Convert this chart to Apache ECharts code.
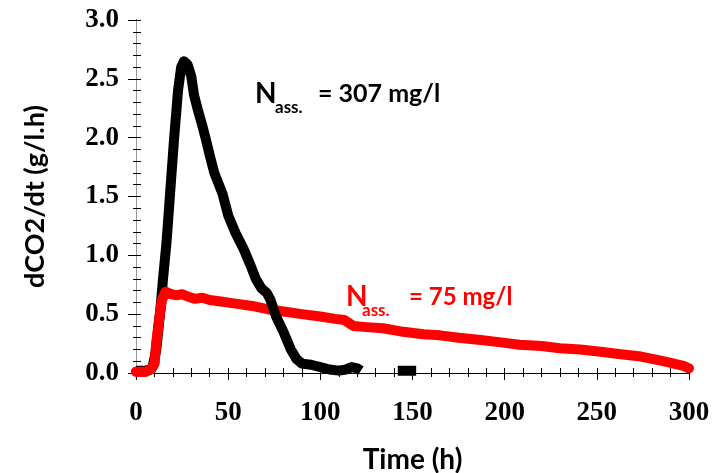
<!DOCTYPE html>
<html>
<head>
    <meta charset="utf-8">
    <style>
        html, body { margin: 0; padding: 0; background: #fff; }
        #chart { width: 723px; height: 473px; }
    </style>
    <script src="https://cdn.jsdelivr.net/npm/echarts@6.0.0/dist/echarts.min.js"></script>
</head>
<body>
    <div id="chart"></div>
    <script type="text/javascript">
        // N ass. = 307 mg/l  (time h, dCO2/dt)
        var highTime = [0, 5, 8, 9, 11, 13, 14.6, 16.5, 18, 20.6, 22.8, 24.5, 26, 28, 30, 31.5, 33.5, 36, 38, 40, 42.5, 45, 47, 50, 54, 58.5, 62, 65, 68, 71, 73, 76, 80, 84, 87, 90, 95, 100, 105, 110, 114, 117, 120, 122, null, 142, 152];
        var highRate = [0.02, 0.02, 0.03, 0.05, 0.2, 0.5, 0.79, 1.1, 1.42, 1.98, 2.4, 2.6, 2.65, 2.62, 2.52, 2.36, 2.24, 2.1, 1.98, 1.85, 1.7, 1.6, 1.52, 1.34, 1.19, 1.05, 0.92, 0.8, 0.72, 0.68, 0.62, 0.48, 0.35, 0.2, 0.12, 0.08, 0.07, 0.05, 0.03, 0.02, 0.03, 0.05, 0.04, 0.02, null, 0.02, 0.02];
        // N ass. = 75 mg/l
        var lowTime = [0, 5, 8, 10, 11, 12.5, 14, 16, 19, 22, 25, 28, 32, 36, 40, 45, 54, 63, 72, 81, 90, 100, 108, 113, 118, 125, 134, 145, 156, 165, 175, 187, 198, 208, 220, 230, 241, 252, 263, 274, 286, 297, 300];
        var lowRate = [0.01, 0.01, 0.03, 0.08, 0.25, 0.45, 0.62, 0.69, 0.67, 0.66, 0.67, 0.65, 0.63, 0.64, 0.62, 0.61, 0.59, 0.57, 0.54, 0.52, 0.5, 0.48, 0.46, 0.45, 0.4, 0.39, 0.38, 0.35, 0.33, 0.32, 0.3, 0.28, 0.26, 0.24, 0.23, 0.21, 0.2, 0.18, 0.16, 0.14, 0.1, 0.06, 0.04];

        function pairs(xs, ys) {
            return xs.map(function (x, i) { return x === null ? [null, null] : [x, ys[i]]; });
        }

        var tickFont = { fontFamily: 'Liberation Serif', fontWeight: 'bold', fontSize: 27, color: '#000' };
        var titleFont = { fontFamily: 'Lato', fontWeight: 'bold', fontSize: 27, color: '#000' };
        var redLine = { color: '#ff0000', width: 10, join: 'round', cap: 'round' };

        var myChart = echarts.init(document.getElementById('chart'));
        myChart.setOption({
            animation: false,
            grid: { left: 136, right: 34, top: 20, bottom: 100, containLabel: false, outerBoundsMode: 'none' },
            xAxis: [
                {
                    type: 'value', min: 0, max: 300, interval: 50, position: 'bottom',
                    name: 'Time (h)', nameLocation: 'middle', nameGap: 73,
                    nameTextStyle: Object.assign({}, titleFont, { fontSize: 28 }),
                    axisLine: { show: true, lineStyle: { color: '#999', width: 1 } },
                    axisTick: { show: true, inside: false, length: 7, lineStyle: { color: '#000' } },
                    minorTick: { show: true, splitNumber: 5, length: 4, lineStyle: { color: '#000' } },
                    axisLabel: Object.assign({ margin: 27 }, tickFont),
                    splitLine: { show: false }
                },
                {
                    type: 'value', min: 0, max: 300, interval: 50, position: 'bottom',
                    axisLine: { show: false },
                    axisTick: { show: true, inside: true, length: 5, lineStyle: { color: '#000' } },
                    minorTick: { show: true, splitNumber: 5, length: 5, lineStyle: { color: '#000' } },
                    axisLabel: { show: false },
                    splitLine: { show: false }
                },
                {
                    type: 'value', min: 0, max: 300, position: 'top',
                    axisLine: { show: true, lineStyle: { color: '#000', width: 1 } },
                    axisTick: { show: false }, axisLabel: { show: false }, splitLine: { show: false }
                }
            ],
            yAxis: [
                {
                    type: 'value', min: 0, max: 3, interval: 0.5, position: 'left',
                    name: 'dCO2/dt (g/l.h)', nameLocation: 'middle', nameGap: 87, nameTextStyle: titleFont,
                    axisLine: { show: true, lineStyle: { color: '#000', width: 1 } },
                    axisTick: { show: true, inside: false, length: 8, lineStyle: { color: '#000' } },
                    minorTick: { show: true, splitNumber: 5, length: 3, lineStyle: { color: '#000' } },
                    axisLabel: Object.assign({
                        margin: 17,
                        formatter: function (v) { return v.toFixed(1); }
                    }, tickFont),
                    splitLine: { show: false }
                },
                {
                    type: 'value', min: 0, max: 3, interval: 0.5, position: 'left',
                    axisLine: { show: false },
                    axisTick: { show: true, inside: true, length: 5, lineStyle: { color: '#000' } },
                    minorTick: { show: true, splitNumber: 5, length: 5, lineStyle: { color: '#000' } },
                    axisLabel: { show: false },
                    splitLine: { show: false }
                },
                {
                    type: 'value', min: 0, max: 3, position: 'right',
                    axisLine: { show: true, lineStyle: { color: '#999', width: 1 } },
                    axisTick: { show: false }, axisLabel: { show: false }, splitLine: { show: false }
                }
            ],
            series: [
                {
                    name: 'Nass 75', type: 'line', xAxisIndex: 0, yAxisIndex: 0, z: 2,
                    data: pairs(lowTime, lowRate), showSymbol: false, smooth: false,
                    lineStyle: redLine
                },
                {
                    name: 'Nass 307', type: 'line', xAxisIndex: 0, yAxisIndex: 0, z: 3,
                    data: pairs(highTime, highRate), showSymbol: false, smooth: false, connectNulls: false,
                    lineStyle: { color: '#000', width: 10, join: 'round', cap: 'butt' }
                },
                {
                    // start-up part of the 75 mg/l run lies over the black rise
                    name: 'Nass 75 start', type: 'line', xAxisIndex: 0, yAxisIndex: 0, z: 4,
                    data: pairs(lowTime.slice(0, 9), lowRate.slice(0, 9)), showSymbol: false, smooth: false,
                    lineStyle: redLine
                }
            ],
            graphic: [
                { type: 'text', left: 255, top: 80, style: { text: 'N', font: 'bold 28px Lato', fill: '#000' } },
                { type: 'text', left: 275, top: 99, style: { text: 'ass.', font: 'bold 17px Lato', fill: '#000' } },
                { type: 'text', left: 318, top: 81, style: { text: '= 307 mg/l', font: 'bold 25px Lato', fill: '#000' } },
                { type: 'text', left: 346, top: 283, style: { text: 'N', font: 'bold 28px Lato', fill: '#ff0000' } },
                { type: 'text', left: 362, top: 302, style: { text: 'ass.', font: 'bold 17px Lato', fill: '#ff0000' } },
                { type: 'text', left: 409, top: 285, style: { text: '= 75 mg/l', font: 'bold 24px Lato', fill: '#ff0000' } }
            ]
        });
    </script>
</body>
</html>
